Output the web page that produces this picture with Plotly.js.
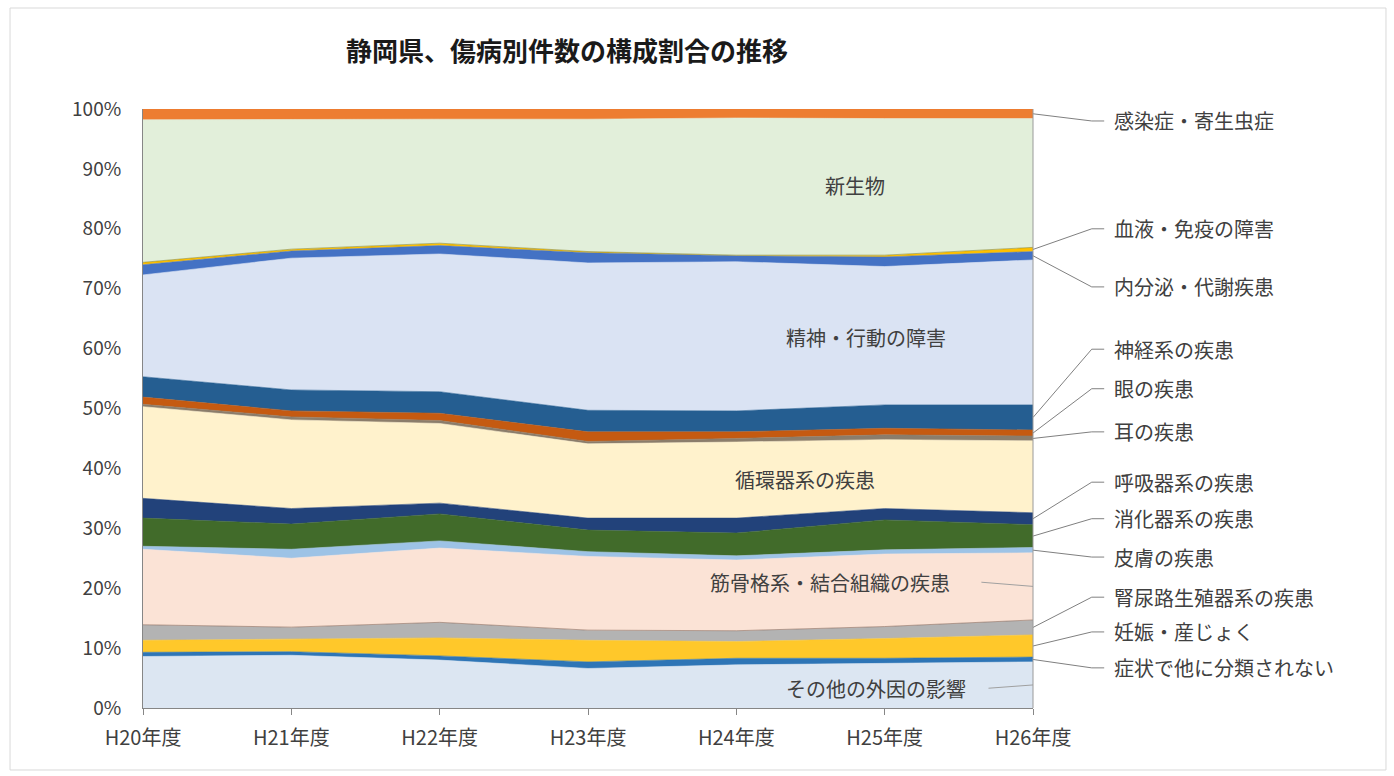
<!DOCTYPE html>
<html><head><meta charset="utf-8">
<script src="https://cdn.plot.ly/plotly-3.0.1.min.js"></script>
<style>html,body{margin:0;padding:0;background:#fff;}#chart{width:1394px;height:776px;}</style>
</head><body><div id="chart"></div>
<script>
// Categories
const years = ['H20年度','H21年度','H22年度','H23年度','H24年度','H25年度','H26年度'];

// Series values (share %, bottom to top)
const sonota    = [8.6, 8.8, 8.0, 6.6, 7.2, 7.5, 7.7];   // その他の外因の影響
const shojo     = [0.7, 0.6, 0.7, 1.1, 1.1, 0.8, 0.8];   // 症状で他に分類されない
const ninshin   = [2.0, 2.1, 3.0, 3.6, 2.8, 3.3, 3.7];   // 妊娠・産じょく
const jinnyoro  = [2.6, 2.0, 2.6, 1.7, 1.8, 2.0, 2.5];   // 腎尿路生殖器系の疾患
const kinkokkaku= [12.6,11.5,12.4,12.3,11.8,12.1,11.2];  // 筋骨格系・結合組織の疾患
const hifu      = [0.5, 1.5, 1.2, 0.8, 0.7, 0.7, 0.9];   // 皮膚の疾患
const shoka     = [4.7, 4.2, 4.5, 3.6, 3.8, 5.0, 3.8];   // 消化器系の疾患
const kokyu     = [3.3, 2.6, 1.8, 2.0, 2.5, 1.9, 2.0];   // 呼吸器系の疾患
const junkan    = [15.3,14.8,13.3,12.4,12.7,11.5,12.0];  // 循環器系の疾患
const mimi      = [0.4, 0.5, 0.5, 0.4, 0.6, 0.8, 0.8];   // 耳の疾患
const me        = [1.2, 1.0, 1.2, 1.6, 1.1, 1.1, 1.0];   // 眼の疾患
const shinkei   = [3.4, 3.5, 3.6, 3.6, 3.5, 3.9, 4.2];   // 神経系の疾患
const seishin   = [17.0,22.0,23.0,24.6,24.9,23.1,24.2];  // 精神・行動の障害
const naibunpi  = [1.7, 1.2, 1.4, 1.7, 1.0, 1.6, 1.4];   // 内分泌・代謝疾患
const ketsueki  = [0.4, 0.3, 0.4, 0.2, 0.1, 0.3, 0.7];   // 血液・免疫の障害
const shinsei   = [23.8,21.7,20.7,22.1,22.9,22.8,21.5];  // 新生物
const kansen    = [1.8, 1.7, 1.7, 1.7, 1.5, 1.6, 1.6];   // 感染症・寄生虫症

const seriesNames = ['その他の外因の影響','症状で他に分類されない','妊娠・産じょく','腎尿路生殖器系の疾患',
  '筋骨格系・結合組織の疾患','皮膚の疾患','消化器系の疾患','呼吸器系の疾患','循環器系の疾患','耳の疾患',
  '眼の疾患','神経系の疾患','精神・行動の障害','内分泌・代謝疾患','血液・免疫の障害','新生物','感染症・寄生虫症'];
const seriesData = [sonota,shojo,ninshin,jinnyoro,kinkokkaku,hifu,shoka,kokyu,junkan,mimi,me,shinkei,seishin,naibunpi,ketsueki,shinsei,kansen];

// Styles
const fills = ['#dce6f2','#2e75b6','#ffc82a','#b3b3b3','#fbe3d6','#9dc3e6','#416b2a','#22427a','#fff2cc','#8b7d6b',
  '#c55a11','#255e91','#dae3f3','#4472c4','#ffc000','#e2efda','#ed7d31'];
const lineCols = ['#dce6f2','#2e75b6','#ffc82a','#8b6a5a','#fbe3d6','#9dc3e6','#416b2a','#22427a','#fff2cc','#8b7d6b',
  '#c55a11','#255e91','#dae3f3','#4472c4','#8a8a30','#e2efda','#ed7d31'];

const traces = seriesData.map((d,i)=>({
  x: years, y: d, name: seriesNames[i], type:'scatter', mode:'lines', stackgroup:'one',
  fillcolor: fills[i], line:{color: lineCols[i], width: 0.6}, hoverinfo:'skip'
}));

// cumulative mids at last year
const last = years.length-1;
const mids = {}; let cum = 0;
seriesData.forEach((d,i)=>{ mids[seriesNames[i]] = cum + d[last]/2; cum += d[last]; });

const font = "'Noto Sans CJK JP', 'Noto Sans', sans-serif";
const txtCol = '#404040';

// right-side label layout positions (paper y)
const rightLabels = [
  ['感染症・寄生虫症', 0.980],
  ['血液・免疫の障害', 0.800],
  ['内分泌・代謝疾患', 0.703],
  ['神経系の疾患', 0.599],
  ['眼の疾患', 0.533],
  ['耳の疾患', 0.461],
  ['呼吸器系の疾患', 0.377],
  ['消化器系の疾患', 0.316],
  ['皮膚の疾患', 0.252],
  ['腎尿路生殖器系の疾患', 0.185],
  ['妊娠・産じょく', 0.127],
  ['症状で他に分類されない', 0.067]
];

const annotations = [];
const shapes = [];
rightLabels.forEach(([name, ly])=>{
  annotations.push({xref:'paper', yref:'paper', x:1.089, y:ly, xanchor:'left', yanchor:'middle',
    text:name, showarrow:false, font:{family:font, size:20, color:txtCol}});
  const my = mids[name]/100;
  shapes.push({type:'path', xref:'paper', yref:'paper',
    path:`M 1,${my} L 1.066,${ly} L 1.08,${ly}`, line:{color:'#808080', width:1}});
});

// in-chart labels
const inLabels = [
  ['新生物', 0.800, 0.873],
  ['精神・行動の障害', 0.812, 0.619],
  ['循環器系の疾患', 0.744, 0.381],
  ['筋骨格系・結合組織の疾患', 0.772, 0.210],
  ['その他の外因の影響', 0.824, 0.033]
];
inLabels.forEach(([t,x,y])=>annotations.push({xref:'paper', yref:'paper', x:x, y:y, xanchor:'center', yanchor:'middle',
  text:t, showarrow:false, font:{family:font, size:20, color:txtCol}}));
shapes.push({type:'line', xref:'paper', yref:'paper', x0:0.942, y0:0.210, x1:1, y1:mids['筋骨格系・結合組織の疾患']/100, line:{color:'#a0a0a0', width:1}});
shapes.push({type:'line', xref:'paper', yref:'paper', x0:0.950, y0:0.033, x1:1, y1:mids['その他の外因の影響']/100, line:{color:'#a0a0a0', width:1}});

// right edge line and outer frame
shapes.push({type:'line', xref:'paper', yref:'paper', x0:1, x1:1, y0:0, y1:1, line:{color:'#9a9a9a', width:1}});
shapes.push({type:'rect', xref:'paper', yref:'paper', x0:-0.1494, x1:1.3966, y0:-0.1035, y1:1.1686, line:{color:'#d9d9d9', width:1}});

const layout = {
  width:1394, height:776,
  margin:{l:143, r:361, t:109, b:68},
  paper_bgcolor:'#fff', plot_bgcolor:'#fff',
  showlegend:false,
  title:{text:'静岡県、傷病別件数の構成割合の推移', x:567/1394, xanchor:'center', y:1-52/776, yanchor:'middle', yref:'container', xref:'container',
    font:{family:font, size:26, color:'#1a1a1a', weight:'bold'}},
  xaxis:{type:'category', range:[0, years.length-1], showgrid:false, showline:true, linecolor:'#868686', linewidth:1,
    ticks:'outside', ticklen:6, tickcolor:'#868686', tickfont:{family:font, size:20, color:txtCol}, ticklabelstandoff:6, fixedrange:true},
  yaxis:{range:[0,100], dtick:10, ticksuffix:'%', showgrid:false, showline:true, linecolor:'#868686', linewidth:1,
    ticks:'', tickfont:{family:font, size:19, color:txtCol}, ticklabelstandoff:17, zeroline:false, fixedrange:true},
  annotations: annotations,
  shapes: shapes
};

Plotly.newPlot('chart', traces, layout, {displayModeBar:false, staticPlot:true});
</script>
</body></html>
